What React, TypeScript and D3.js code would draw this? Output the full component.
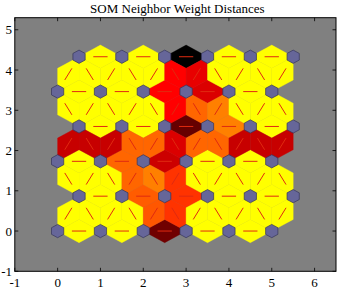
import React from "react";
import * as d3 from "d3";

// SOM grid dimensions (hextop 6 x 6)
const gridCols = 6;
const gridRows = 6;

// Normalised neighbour distances (0 = closest / yellow, 1 = farthest / black)
// Horizontal neighbours in each row, left to right
const rowH0 = [0, 0, 0.78, 0, 0];
const rowH1 = [0, 0.32, 0.4, 0, 0];
const rowH2 = [0, 0.3, 0.6, 0, 0];
const rowH3 = [0, 0, 0.8, 0.25, 0];
const rowH4 = [0, 0, 0.5, 0.57, 0];
const rowH5 = [0, 0, 1, 0, 0];
// Diagonal neighbours between consecutive rows, left to right
const diag01 = [0, 0, 0, 0, 0.33, 0.4, 0, 0, 0, 0, 0];
const diag12 = [0, 0, 0, 0.3, 0.25, 0.4, 0, 0, 0, 0, 0];
const diag23 = [0.61, 0.61, 0.61, 0.3, 0.3, 0.57, 0.3, 0.3, 0.61, 0.61, 0.61];
const diag34 = [0, 0, 0, 0, 0, 0.5, 0.3, 0.25, 0, 0, 0];
const diag45 = [0, 0, 0, 0, 0, 0.5, 0.545, 0, 0, 0, 0];

const horizontalLevels = [rowH0, rowH1, rowH2, rowH3, rowH4, rowH5];
const diagonalLevels = [diag01, diag12, diag23, diag34, diag45];

const xTicks = [-1, 0, 1, 2, 3, 4, 5, 6];
const yTicks = [-1, 0, 1, 2, 3, 4, 5];
const title = "SOM Neighbor Weight Distances";

type P = [number, number];

function neuronPos(i: number, j: number): P {
  return [i + (j % 2) * 0.5, (j * Math.sqrt(3)) / 2];
}

export default function App() {
  const W = 340;
  const H = 288;
  const x = d3.scaleLinear().domain([-1, 6.5]).range([14.8, 336]);
  const y = d3.scaleLinear().domain([-1, 5.3]).range([271.3, 17.7]);
  const color = d3
    .scaleLinear<string>()
    .domain([0, 0.5, 1])
    .range(["#ffff00", "#ff0000", "#000000"]);

  // Build edges
  const edges: { a: P; b: P; level: number }[] = [];
  for (let j = 0; j < gridRows; j++) {
    for (let i = 0; i < gridCols - 1; i++) {
      edges.push({ a: neuronPos(i, j), b: neuronPos(i + 1, j), level: horizontalLevels[j][i] });
    }
  }
  for (let j = 0; j < gridRows - 1; j++) {
    const pairs: { a: P; b: P }[] = [];
    for (let i = 0; i < gridCols; i++) {
      for (let k = 0; k < gridCols; k++) {
        const a = neuronPos(i, j);
        const b = neuronPos(k, j + 1);
        if (Math.abs(Math.abs(a[0] - b[0]) - 0.5) < 1e-6) pairs.push({ a, b });
      }
    }
    pairs.sort((p, q) => p.a[0] + p.b[0] - (q.a[0] + q.b[0]));
    pairs.forEach((p, idx) => edges.push({ ...p, level: diagonalLevels[j][idx] }));
  }

  const h = Math.sqrt(3) / 6;
  const line = d3
    .line<P>()
    .x((d) => x(d[0]))
    .y((d) => y(d[1]));

  const rhombus = (a: P, b: P): P[] => {
    const m: P = [(a[0] + b[0]) / 2, (a[1] + b[1]) / 2];
    const dx = b[0] - a[0];
    const dy = b[1] - a[1];
    const n: P = [-dy, dx];
    return [a, [m[0] + n[0] * h, m[1] + n[1] * h], b, [m[0] - n[0] * h, m[1] - n[1] * h], a];
  };

  const neurons: P[] = [];
  for (let j = 0; j < gridRows; j++) for (let i = 0; i < gridCols; i++) neurons.push(neuronPos(i, j));
  const r = 0.165;
  const hex = (c: P): P[] =>
    d3.range(7).map((k) => [c[0] + r * Math.sin((k * Math.PI) / 3), c[1] + r * Math.cos((k * Math.PI) / 3)] as P);

  const [x0, x1] = x.range();
  const [y0, y1] = y.range();
  const font = "'Liberation Serif', 'Times New Roman', serif";

  return (
    <svg
      width={W}
      height={H}
      style={{ position: "absolute", left: 0, top: 0, background: "#ffffff" }}
    >
      <rect x={x0} y={y1} width={x1 - x0} height={y0 - y1} fill="#808080" />
      <g>
        {edges.map((e, k) => (
          <path key={"r" + k} d={line(rhombus(e.a, e.b)) || ""} fill={color(e.level)} stroke={color(e.level)} strokeWidth={0.4} />
        ))}
      </g>
      <g>
        {edges.map((e, k) => {
          const p1: P = [(2 * e.a[0] + e.b[0]) / 3, (2 * e.a[1] + e.b[1]) / 3];
          const p2: P = [(e.a[0] + 2 * e.b[0]) / 3, (e.a[1] + 2 * e.b[1]) / 3];
          return <path key={"l" + k} d={line([p1, p2]) || ""} stroke="#e02a10" strokeWidth={1} fill="none" />;
        })}
      </g>
      <g>
        {neurons.map((c, k) => (
          <path key={"n" + k} d={line(hex(c)) || ""} fill="#666699" stroke="#35355a" strokeWidth={0.7} />
        ))}
      </g>
      <rect x={x0} y={y1} width={x1 - x0} height={y0 - y1} fill="none" stroke="#000" strokeWidth={1} />
      {xTicks.map((t) => (
        <g key={"xt" + t}>
          <line x1={x(t)} x2={x(t)} y1={y0} y2={y0 - 3.5} stroke="#000" strokeWidth={0.8} />
          <line x1={x(t)} x2={x(t)} y1={y1} y2={y1 + 3.5} stroke="#000" strokeWidth={0.8} />
          <text x={x(t)} y={286.5} textAnchor="middle" fontFamily={font} fontSize={13} fill="#000">
            {t}
          </text>
        </g>
      ))}
      {yTicks.map((t) => (
        <g key={"yt" + t}>
          <line x1={x0} x2={x0 + 3.5} y1={y(t)} y2={y(t)} stroke="#000" strokeWidth={0.8} />
          <line x1={x1} x2={x1 - 3.5} y1={y(t)} y2={y(t)} stroke="#000" strokeWidth={0.8} />
          <text x={12} y={y(t) + 4.5} textAnchor="end" fontFamily={font} fontSize={13} fill="#000">
            {t}
          </text>
        </g>
      ))}
      <text x={(x0 + x1) / 2 + 2} y={12.5} textAnchor="middle" fontFamily={font} fontSize={13} fill="#000">
        {title}
      </text>
    </svg>
  );
}
